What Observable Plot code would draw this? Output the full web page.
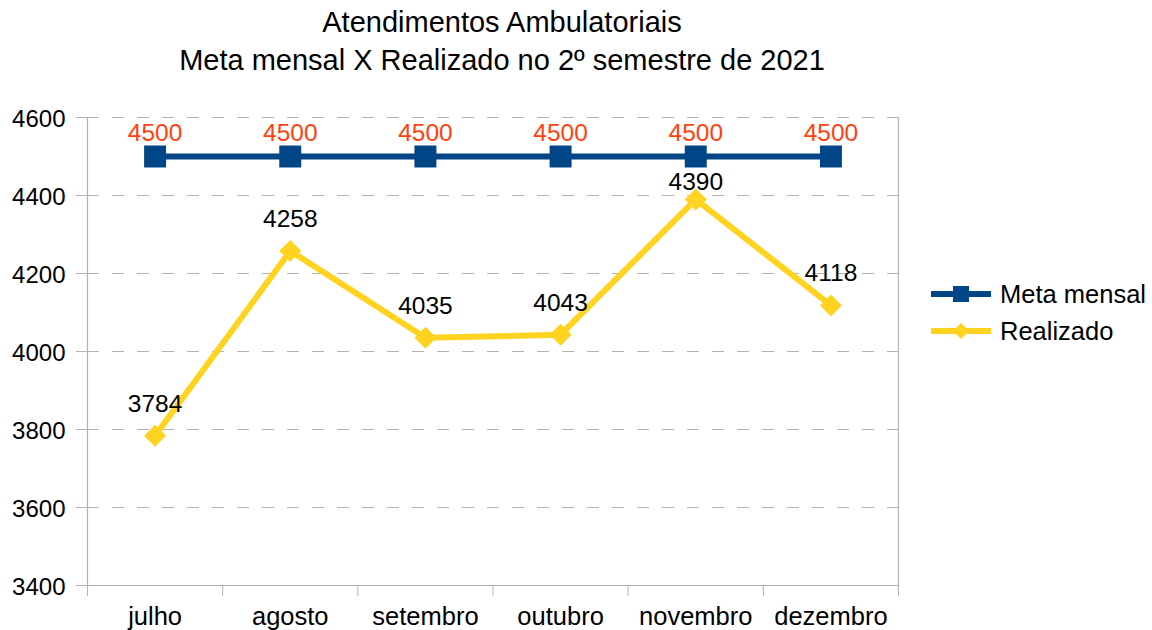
<!DOCTYPE html>
<html>
<head>
<meta charset="utf-8">
<script src="https://cdn.jsdelivr.net/npm/d3@7"></script>
<script src="https://cdn.jsdelivr.net/npm/@observablehq/plot@0.6"></script>
<style>
  body { margin: 0; background: #fff; font-family: "Liberation Sans", Arial, sans-serif; }
  #wrap { position: relative; width: 1152px; height: 630px; overflow: hidden; background: #fff; }
  #title { height: 90px; width: 1004px; text-align: center; font-size: 29px; line-height: 38px;
           padding-top: 3px; box-sizing: border-box; color: #000; }
  #legend { position: absolute; left: 920px; top: 270px; }
</style>
</head>
<body>
<div id="wrap">
  <div id="title">Atendimentos Ambulatoriais<br>Meta mensal X Realizado no 2º semestre de 2021</div>
  <div id="chart"></div>
  <svg id="legend" width="232" height="90"></svg>
</div>
<script>
const months = ["julho", "agosto", "setembro", "outubro", "novembro", "dezembro"];
const metaMensal = [4500, 4500, 4500, 4500, 4500, 4500];
const realizado = [3784, 4258, 4035, 4043, 4390, 4118];
const yTicks = [3400, 3600, 3800, 4000, 4200, 4400, 4600];
const seriesNames = ["Meta mensal", "Realizado"];
const colors = { meta: "#004586", real: "#ffd320", metaLabel: "#ff420e", grid: "#b3b3b3" };

const data = months.map((m, i) => ({ i, month: m, meta: metaMensal[i], real: realizado[i] }));
const boundaries = d3.range(months.length + 1).map(k => k - 0.5);

const chart = Plot.plot({
  width: 1152,
  height: 540,
  marginTop: 27,
  marginBottom: 45,
  marginLeft: 87,
  marginRight: 254,
  style: { fontFamily: "Liberation Sans, Arial, sans-serif", background: "white", color: "black", overflow: "visible" },
  x: { type: "linear", domain: [-0.5, months.length - 0.5] },
  y: { domain: [yTicks[0], yTicks[yTicks.length - 1]] },
  marks: [
    Plot.gridY(yTicks.slice(1), { stroke: colors.grid, strokeOpacity: 1, strokeDasharray: "12,13" }),
    Plot.ruleY([yTicks[0]], { stroke: colors.grid, strokeWidth: 1.2 }),
    Plot.ruleX([boundaries[0], boundaries[boundaries.length - 1]], { stroke: colors.grid, strokeWidth: 1.2 }),
    Plot.axisY(yTicks, { tickSize: 11, tickFormat: () => "", stroke: colors.grid, label: null }),
    Plot.axisY(yTicks, { tickSize: 0, tickPadding: 22, fill: "black", fontSize: 24, tickFormat: d => String(d), label: null, dy: 2 }),
    Plot.axisX(boundaries, { tickSize: 11, tickFormat: () => "", stroke: colors.grid, label: null }),
    Plot.axisX(d3.range(months.length), { tickSize: 0, tickPadding: 21, tickFormat: i => months[i], fontSize: 25.5, fill: "black", label: null }),
    Plot.line(data, { x: "i", y: "meta", stroke: colors.meta, strokeWidth: 6 }),
    Plot.line(data, { x: "i", y: "real", stroke: colors.real, strokeWidth: 6, strokeLinejoin: "round" }),
    Plot.dot(data, { x: "i", y: "meta", symbol: "square", r: 12.4, fill: colors.meta, stroke: "none" }),
    Plot.dot(data, { x: "i", y: "real", symbol: "diamond2", r: 9.9, fill: colors.real, stroke: "none" }),
    Plot.text(data, { x: "i", y: "meta", text: d => String(d.meta), fill: colors.metaLabel, fontSize: 24.5, lineAnchor: "bottom", dy: -16 }),
    Plot.text(data.filter(d => d.month !== "novembro"), { x: "i", y: "real", text: d => String(d.real), fill: "black", fontSize: 24.5, lineAnchor: "bottom", dy: -24 }),
    Plot.text(data.filter(d => d.month === "novembro"), { x: "i", y: "real", text: d => String(d.real), fill: "black", fontSize: 24.5, lineAnchor: "bottom", dy: -9 })
  ]
});
document.getElementById("chart").appendChild(chart);

// Legend
const leg = d3.select("#legend");
const rows = [
  { name: seriesNames[0], color: colors.meta, symbol: d3.symbolSquare, size: 256, cy: 24 },
  { name: seriesNames[1], color: colors.real, symbol: d3.symbolDiamond2, size: 163, cy: 61 }
];
rows.forEach(r => {
  leg.append("line").attr("x1", 11).attr("x2", 71).attr("y1", r.cy).attr("y2", r.cy)
    .attr("stroke", r.color).attr("stroke-width", 6);
  leg.append("path").attr("d", d3.symbol(r.symbol, r.size)()).attr("transform", `translate(41,${r.cy})`)
    .attr("fill", r.color);
  leg.append("text").attr("x", 80).attr("y", r.cy + 9).text(r.name)
    .attr("font-size", 25.5).attr("font-family", "Liberation Sans, Arial, sans-serif").attr("fill", "black");
});
</script>
</body>
</html>
